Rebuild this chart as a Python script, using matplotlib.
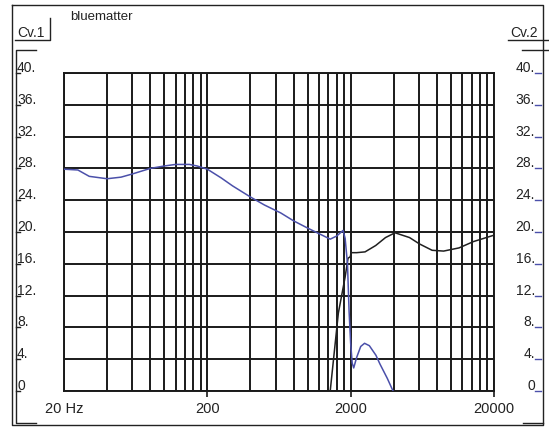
import matplotlib
matplotlib.use('Agg')
import matplotlib.pyplot as plt
from matplotlib.lines import Line2D
from matplotlib.transforms import blended_transform_factory

# response curves, frequency in Hz and level in dB
blue_freq = [20, 25, 30, 40, 50, 60, 80, 100, 120, 150, 170, 200, 250, 300, 400, 500,
             650, 800, 1000, 1200, 1440, 1600, 1770, 1830, 1900, 1950, 2000, 2050,
             2100, 2200, 2350, 2500, 2700, 3000, 3200, 3600, 3950]
blue_db = [27.9, 27.8, 27.0, 26.7, 26.9, 27.3, 28.0, 28.3, 28.5, 28.5, 28.3, 27.9, 26.8,
           25.8, 24.4, 23.4, 22.4, 21.4, 20.5, 19.8, 19.1, 19.5, 20.2, 19.2, 16.0, 10.0,
           6.0, 3.5, 2.9, 4.2, 5.6, 6.0, 5.7, 4.5, 3.4, 1.6, 0.0]

black_freq = [1400, 1440, 1641, 1828, 1917, 1990, 2010, 2200, 2520, 2990, 3500, 4080,
              5150, 6040, 7400, 8900, 11400, 14400, 20000]
black_db = [-2.0, 0.0, 9.8, 14.3, 16.7, 16.9, 17.4, 17.4, 17.5, 18.3, 19.3, 19.9,
            19.3, 18.5, 17.7, 17.6, 18.0, 18.8, 19.6]

grid_freq = [m * d for d in (10, 100, 1000) for m in (2, 4, 6, 8, 10, 12, 14, 16, 18)] + [20000]
db_ticks = list(range(0, 41, 4))
db_labels = ['0'] + ['%d.' % v for v in db_ticks[1:]]
freq_ticks = [20, 200, 2000, 20000]
freq_labels = ['20 Hz', '200', '2000', '20000']

W, H = 549, 428
plt.rcParams['font.family'] = ['Liberation Sans', 'DejaVu Sans']

fig = plt.figure(figsize=(W / 100, H / 100), dpi=100)
fig.patch.set_facecolor('white')


def fx(px):
    return px / W


def fy(py):
    return 1 - py / H


def pline(xs, ys, color='#222222', lw=1.0):
    fig.add_artist(Line2D([fx(x) for x in xs], [fy(y) for y in ys],
                          color=color, lw=lw, transform=fig.transFigure))


left, right, top, bottom = 64, 494, 73, 391
ax = fig.add_axes([fx(left), fy(bottom), (right - left) / W, (bottom - top) / H])
ax.set_xscale('log')
ax.set_xlim(20, 20000)
ax.set_ylim(0, 40)

for f in grid_freq:
    ax.axvline(f, color='#1a1a1a', lw=1.4, zorder=1)
for v in db_ticks:
    ax.axhline(v, color='#1a1a1a', lw=1.4, zorder=1)

ax.plot(black_freq, black_db, color='#202020', lw=1.1, zorder=3, clip_on=True)
ax.plot(blue_freq, blue_db, color='#4b50aa', lw=1.1, zorder=4, clip_on=True)

for s in ax.spines.values():
    s.set_color('#1a1a1a')
    s.set_linewidth(1.4)
ax.set_xticks([200, 2000, 20000])
ax.set_xticklabels([])
ax.xaxis.set_minor_locator(matplotlib.ticker.NullLocator())
ax.tick_params(axis='x', length=4.5, width=1.2, color='#1a1a1a', direction='out')
ax.set_yticks([])

trans = blended_transform_factory(ax.transData, fig.transFigure)
for f, lab in zip(freq_ticks, freq_labels):
    ax.text(f, fy(409), lab, transform=trans, ha='center', va='center',
            fontsize=10.5, color='#222222')

# outer frame and side scales
pline([12, 543, 543, 12, 12], [5, 5, 425, 425, 5])
pline([15, 50, 50], [40, 40, 18])
pline([36, 16, 16, 36], [50, 50, 423, 423])
pline([508, 549], [40, 40])
pline([522, 549], [50, 50])
pline([523, 543], [423, 423])

fig.text(fx(17), fy(37), 'Cv.1', fontsize=10, color='#222222', va='baseline')
fig.text(fx(510), fy(37), 'Cv.2', fontsize=10, color='#222222', va='baseline')
fig.text(fx(70), fy(20), 'bluematter', fontsize=9.5, color='#222222', va='baseline')

for v, lab in zip(db_ticks, db_labels):
    py = bottom - (bottom - top) * v / 40
    fig.text(fx(17), fy(py - 1), lab, fontsize=10, color='#222222', va='baseline')
    pline([16, 20], [py, py], lw=1.0)
    fig.text(fx(535), fy(py - 1), lab, fontsize=10, color='#222222', va='baseline', ha='right')
    pline([535, 541], [py, py], color='#4b50aa', lw=1.0)

fig.savefig('out.png', dpi=100)
